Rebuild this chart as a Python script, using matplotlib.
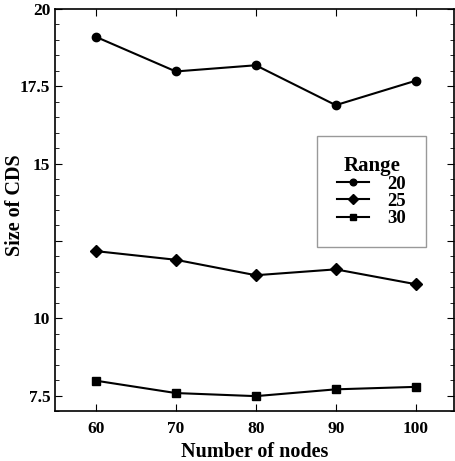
import matplotlib
matplotlib.use('Agg')
from matplotlib import pyplot as plt
from matplotlib.ticker import MultipleLocator, FixedLocator, FixedFormatter

plt.rcParams['font.family'] = 'Liberation Serif'
plt.rcParams['font.weight'] = 'bold'

nodes = [60, 70, 80, 90, 100]
range_20 = [19.1, 17.98, 18.18, 16.89, 17.68]
range_25 = [12.17, 11.89, 11.39, 11.58, 11.1]
range_30 = [7.98, 7.58, 7.48, 7.7, 7.78]
y_ticks = [7.5, 10, 12.5, 15, 17.5, 20]
y_labels = ['7.5', '10', '', '15', '17.5', '20']

fig = plt.figure(figsize=(4.55, 4.61), dpi=100)
ax = fig.add_axes([0.121, 0.1085, 0.877, 0.8720])

ax.plot(nodes, range_20, color='black', lw=1.5, marker='o', ms=6, label='20')
ax.plot(nodes, range_25, color='black', lw=1.5, marker='D', ms=6, label='25')
ax.plot(nodes, range_30, color='black', lw=1.5, marker='s', ms=6, label='30')

ax.set_xlim(54.9, 104.8)
ax.set_ylim(7, 20)
ax.set_xticks(nodes)
ax.yaxis.set_major_locator(FixedLocator(y_ticks))
ax.yaxis.set_major_formatter(FixedFormatter(y_labels))
ax.yaxis.set_minor_locator(MultipleLocator(0.5))
ax.tick_params(which='both', direction='in', top=True, right=True, labelsize=12.5)
ax.tick_params(which='major', length=5, width=0.8)
ax.tick_params(which='minor', length=3, width=0.6)
ax.tick_params(axis='x', pad=7)
for s in ax.spines.values():
    s.set_linewidth(1.2)

ax.set_xlabel('Number of nodes', fontsize=14.5, fontweight='bold', labelpad=3.5)
ax.set_ylabel('Size of CDS', fontsize=14.5, fontweight='bold')
ax.yaxis.set_label_coords(-0.075, 0.512)

leg = ax.legend(title='Range', loc='upper left', bbox_to_anchor=(0.657, 0.684),
                borderaxespad=0, fancybox=False, edgecolor='gray',
                fontsize=13.5, title_fontsize=15, handlelength=1.7,
                borderpad=1.05, labelspacing=0.0, handletextpad=1.0,
                markerscale=0.8)
leg.get_title().set_fontweight('bold')
leg.get_frame().set_linewidth(1.0)

fig.savefig('out.png', dpi=100)
